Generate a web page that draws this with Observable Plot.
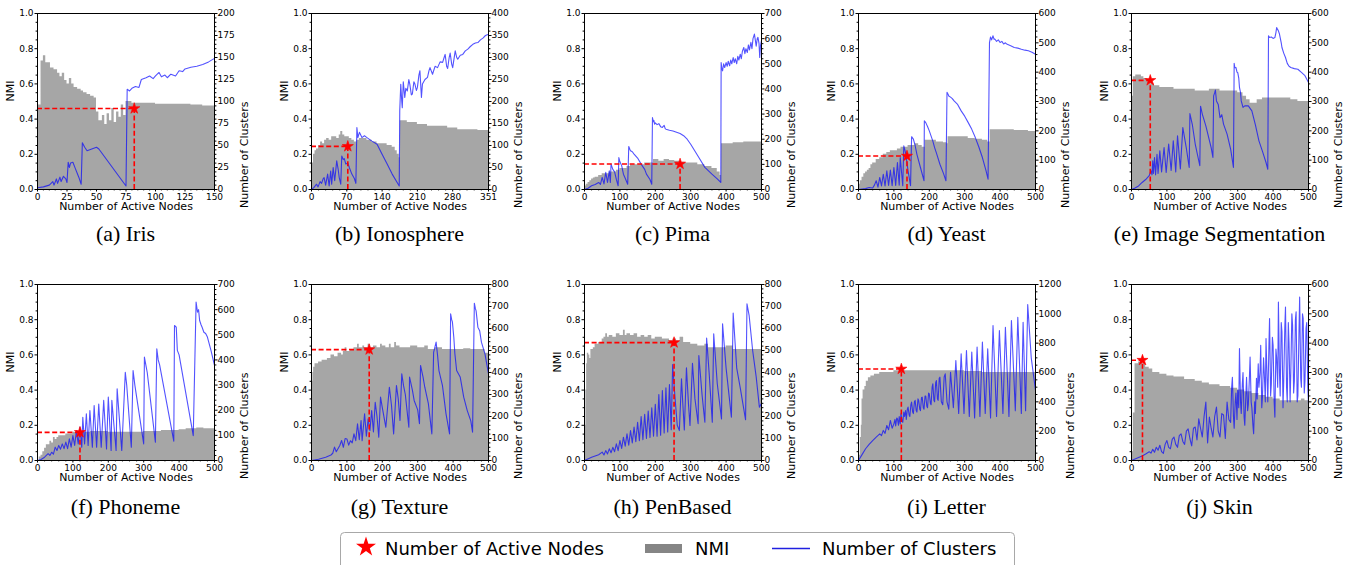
<!DOCTYPE html>
<html><head><meta charset="utf-8">
<script src="https://cdn.jsdelivr.net/npm/d3@7"></script>
<script src="https://cdn.jsdelivr.net/npm/@observablehq/plot@0.6"></script>
<style>
body{margin:0;background:#fff;width:1356px;height:565px;overflow:hidden;position:relative;font-family:"DejaVu Sans";}
.panel{position:absolute;width:290px;height:220px;}
.panel svg{max-width:none;display:block;}
.cap{position:absolute;width:260px;text-align:center;font-family:"Liberation Serif";font-size:22px;line-height:22px;white-space:nowrap;color:#000;}
</style></head><body>
<script>
// ---------- DATA ----------
const panelLabels = ["(a) Iris","(b) Ionosphere","(c) Pima","(d) Yeast","(e) Image Segmentation",
                     "(f) Phoneme","(g) Texture","(h) PenBased","(i) Letter","(j) Skin"];
const xMaxes = [150,351,500,500,500,500,500,500,500,500];
const clusterMaxes = [200,400,700,600,600,700,800,800,1200,600];
const activeNodes = [82,72,270,137,53,120,163,253,121,31];
const activeNMI   = [0.46,0.245,0.145,0.19,0.62,0.16,0.63,0.67,0.52,0.57];

const nmiTicks = [0,0.2,0.4,0.6,0.8,1.0];
const irisXTicks = [0,25,50,75,100,125,150];
const ionoXTicks = [0,70,140,210,280,351];
const nodeXTicks = [0,100,200,300,400,500];
const c200Ticks = [0,25,50,75,100,125,150,175,200];
const c400Ticks = [0,50,100,150,200,250,300,350,400];
const c600Ticks = [0,100,200,300,400,500,600];
const c700Ticks = [0,100,200,300,400,500,600,700];
const c800Ticks = [0,100,200,300,400,500,600,700,800];
const c1200Ticks = [0,200,400,600,800,1000,1200];

// NMI bars: [active nodes, NMI]
const irisNMI = [[0,0.48],[3,0.73],[5,0.76],[7,0.72],[9,0.72],[11,0.69],[14,0.68],[17,0.66],[19,0.64],[21,0.66],[23,0.62],[25,0.60],[27,0.63],[29,0.60],[31,0.58],[34,0.57],[37,0.56],[39,0.55],[42,0.54],[45,0.53],[48,0.52],[50,0.44],[52,0.39],[55,0.42],[57,0.37],[59,0.43],[61,0.39],[63,0.46],[65,0.38],[67,0.44],[69,0.41],[71,0.48],[73,0.42],[75,0.50],[80,0.49],[90,0.49],[100,0.485],[120,0.485],[130,0.48],[140,0.475],[150,0.47]];
const ionoNMI = [[0,0.05],[2,0.15],[4,0.2],[7,0.22],[10,0.23],[14,0.25],[18,0.27],[22,0.26],[26,0.28],[30,0.29],[35,0.28],[40,0.3],[45,0.3],[50,0.29],[55,0.31],[58,0.33],[62,0.31],[66,0.3],[70,0.3],[75,0.29],[80,0.28],[85,0.27],[90,0.28],[95,0.29],[100,0.29],[110,0.28],[120,0.27],[130,0.26],[140,0.26],[150,0.25],[160,0.24],[166,0.22],[170,0.2],[174,0.18],[176,0.39],[190,0.38],[210,0.37],[230,0.36],[250,0.36],[270,0.35],[290,0.34],[310,0.34],[330,0.335],[351,0.335]];
const pimaNMI = [[0,0.02],[5,0.03],[10,0.04],[15,0.05],[20,0.06],[25,0.065],[30,0.07],[40,0.08],[50,0.09],[60,0.09],[70,0.1],[80,0.1],[90,0.11],[100,0.12],[110,0.12],[120,0.13],[130,0.14],[150,0.14],[170,0.15],[190,0.15],[195,0.17],[210,0.16],[225,0.17],[240,0.165],[255,0.16],[270,0.155],[285,0.15],[300,0.15],[320,0.14],[340,0.13],[360,0.12],[375,0.1],[383,0.08],[387,0.26],[420,0.265],[450,0.27],[500,0.27]];
const yeastNMI = [[0,0.03],[5,0.05],[10,0.07],[15,0.09],[20,0.1],[25,0.11],[30,0.12],[35,0.14],[40,0.15],[50,0.17],[60,0.18],[70,0.2],[80,0.21],[90,0.22],[100,0.22],[110,0.23],[120,0.24],[130,0.24],[140,0.25],[150,0.25],[160,0.26],[170,0.25],[180,0.24],[188,0.28],[200,0.28],[220,0.27],[240,0.265],[250,0.26],[253,0.3],[270,0.3],[290,0.3],[310,0.29],[330,0.285],[350,0.28],[365,0.27],[372,0.34],[400,0.34],[440,0.335],[480,0.33],[500,0.33]];
const imgsegNMI = [[0,0.53],[5,0.64],[12,0.65],[20,0.65],[28,0.64],[35,0.63],[45,0.62],[55,0.6],[65,0.59],[80,0.58],[100,0.58],[120,0.57],[150,0.57],[180,0.56],[200,0.56],[220,0.57],[250,0.56],[280,0.56],[300,0.55],[315,0.53],[325,0.51],[335,0.49],[345,0.49],[355,0.51],[370,0.52],[400,0.52],[430,0.52],[450,0.51],[470,0.5],[500,0.49]];
const phonemeNMI = [[0,0.0],[5,0.02],[10,0.03],[15,0.05],[20,0.07],[25,0.09],[30,0.09],[35,0.11],[40,0.1],[45,0.13],[50,0.12],[55,0.13],[60,0.14],[70,0.14],[80,0.15],[90,0.15],[100,0.16],[120,0.16],[150,0.165],[200,0.16],[250,0.16],[300,0.165],[350,0.17],[400,0.175],[420,0.18],[450,0.185],[470,0.18],[500,0.18]];
const textureNMI = [[0,0.35],[2,0.45],[4,0.5],[6,0.53],[10,0.55],[20,0.56],[30,0.57],[45,0.58],[55,0.6],[65,0.59],[75,0.61],[85,0.6],[90,0.62],[95,0.64],[100,0.62],[110,0.63],[120,0.64],[130,0.66],[135,0.64],[145,0.65],[150,0.64],[160,0.66],[165,0.64],[175,0.65],[185,0.64],[195,0.66],[200,0.65],[210,0.64],[220,0.66],[225,0.64],[235,0.67],[240,0.65],[250,0.64],[270,0.64],[280,0.65],[300,0.64],[320,0.65],[330,0.63],[350,0.64],[370,0.63],[400,0.63],[430,0.635],[450,0.63],[480,0.63],[490,0.61],[500,0.6]];
const penNMI = [[0,0.0],[2,0.2],[4,0.4],[6,0.55],[8,0.61],[12,0.6],[15,0.58],[18,0.63],[25,0.64],[30,0.66],[40,0.67],[50,0.69],[55,0.7],[60,0.72],[65,0.7],[70,0.71],[80,0.7],[90,0.72],[100,0.71],[110,0.74],[115,0.71],[120,0.72],[130,0.71],[140,0.72],[150,0.7],[160,0.71],[170,0.7],[180,0.71],[190,0.69],[200,0.7],[220,0.69],[240,0.68],[250,0.69],[260,0.68],[270,0.7],[280,0.67],[300,0.66],[320,0.65],[340,0.66],[350,0.64],[380,0.64],[400,0.65],[420,0.63],[460,0.63],[500,0.62]];
const letterNMI = [[0,0.03],[5,0.13],[8,0.2],[10,0.35],[13,0.4],[18,0.42],[22,0.45],[28,0.47],[35,0.48],[45,0.49],[60,0.5],[80,0.5],[100,0.51],[150,0.51],[200,0.51],[250,0.51],[300,0.505],[350,0.5],[400,0.5],[450,0.5],[500,0.49]];
const skinNMI = [[0,0.05],[5,0.27],[10,0.55],[20,0.56],[30,0.55],[40,0.53],[50,0.52],[60,0.5],[80,0.49],[100,0.48],[120,0.475],[150,0.46],[180,0.45],[200,0.44],[220,0.43],[250,0.42],[280,0.41],[300,0.4],[320,0.39],[340,0.38],[360,0.37],[380,0.36],[400,0.35],[420,0.34],[460,0.34],[480,0.35],[490,0.34],[500,0.33]];

// Number of clusters: [active nodes, clusters]
const irisClusters = [[0,2],[5,3],[10,5],[13,9],[14,5],[16,12],[17,7],[19,14],[20,9],[22,15],[24,12],[25,8],[26,31],[27,25],[28,30],[30,31],[32,24],[35,14],[37,6],[38,53],[40,48],[42,44],[46,46],[50,48],[52,46],[75,4],[76,114],[78,112],[80,115],[83,117],[86,116],[88,125],[92,127],[95,129],[98,126],[100,129],[103,133],[105,128],[108,130],[110,127],[113,131],[117,129],[120,135],[123,134],[125,137],[130,139],[135,140],[140,142],[145,145],[150,149]];
const ionoClusters = [[0,0],[5,5],[10,12],[13,6],[17,18],[20,14],[23,24],[25,27],[28,10],[32,35],[35,8],[38,42],[40,12],[43,50],[46,20],[50,65],[53,45],[55,27],[58,12],[60,76],[63,68],[65,70],[68,58],[72,60],[75,50],[80,35],[85,25],[88,14],[90,141],[92,118],[95,130],[100,118],[105,122],[110,118],[120,110],[130,103],[140,80],[150,58],[160,35],[174,8],[175,179],[177,239],[179,200],[180,186],[182,245],[185,209],[187,230],[190,224],[193,250],[195,239],[198,215],[200,217],[203,245],[205,240],[208,225],[210,232],[213,260],[215,270],[218,209],[220,240],[225,250],[230,255],[233,270],[235,277],[240,262],[245,280],[250,277],[255,290],[260,289],[263,300],[265,307],[268,280],[270,275],[273,300],[275,310],[278,285],[280,277],[285,315],[288,300],[290,296],[295,305],[300,307],[305,315],[310,319],[315,325],[320,330],[325,333],[330,334],[335,340],[340,344],[345,350],[351,353]];
const pimaClusters = [[0,0],[10,5],[20,15],[30,20],[40,28],[45,20],[50,48],[55,22],[60,68],[65,28],[70,74],[73,28],[75,101],[80,80],[85,70],[90,40],[95,15],[97,127],[100,110],[105,95],[110,61],[115,45],[122,21],[125,171],[128,160],[130,154],[135,150],[140,141],[150,125],[160,101],[170,80],[175,61],[185,40],[190,21],[192,286],[194,270],[196,275],[198,260],[200,265],[205,258],[210,262],[215,250],[220,247],[225,255],[228,242],[230,240],[240,236],[250,233],[260,228],[270,223],[280,214],[290,200],[300,180],[320,134],[340,88],[360,61],[375,42],[385,28],[386,505],[388,480],[390,472],[393,500],[396,485],[400,505],[403,490],[406,510],[410,492],[413,515],[416,500],[420,525],[423,505],[426,520],[430,500],[433,530],[436,515],[440,538],[443,520],[446,550],[450,565],[453,540],[456,560],[460,545],[463,575],[466,555],[470,585],[473,560],[476,600],[480,618],[483,590],[485,570],[488,600],[490,605],[493,580],[495,525],[497,570],[500,592]];
const yeastClusters = [[0,0],[20,3],[30,7],[40,5],[45,15],[50,30],[55,8],[60,41],[65,12],[70,52],[75,12],[80,64],[85,14],[90,66],[95,13],[100,75],[105,14],[110,92],[115,15],[118,109],[125,13],[128,149],[133,125],[140,64],[147,13],[150,180],[155,172],[160,150],[165,120],[175,75],[185,30],[186,234],[190,228],[195,215],[200,200],[210,165],[215,143],[220,125],[230,86],[240,55],[247,30],[250,331],[253,325],[255,319],[260,315],[265,310],[270,302],[280,290],[290,268],[300,250],[310,228],[320,205],[330,177],[340,145],[350,109],[360,65],[366,35],[370,501],[373,520],[376,510],[380,524],[383,512],[385,513],[390,505],[395,510],[400,501],[405,505],[410,496],[415,500],[420,495],[430,490],[440,484],[450,482],[460,478],[470,475],[480,473],[490,468],[500,461]];
const imgsegClusters = [[0,0],[10,5],[20,12],[30,24],[40,34],[50,47],[55,64],[58,50],[60,98],[62,55],[65,109],[68,50],[72,120],[75,55],[80,132],[85,60],[92,143],[98,58],[105,155],[112,65],[118,166],[125,60],[130,183],[138,70],[145,211],[155,140],[163,75],[165,259],[172,220],[180,155],[193,81],[195,284],[200,257],[210,217],[225,143],[230,109],[232,319],[235,330],[237,339],[240,302],[245,290],[250,245],[255,255],[260,223],[270,189],[280,138],[288,75],[290,430],[292,415],[295,416],[298,400],[300,399],[303,380],[305,348],[308,330],[310,302],[315,280],[320,285],[330,285],[340,268],[350,220],[360,166],[370,130],[380,92],[385,69],[387,524],[390,518],[395,520],[400,515],[405,518],[408,535],[410,552],[413,545],[415,541],[418,530],[420,518],[423,500],[425,484],[430,465],[435,450],[440,430],[445,420],[450,416],[460,412],[470,410],[480,399],[490,388],[500,365]];
const phonemeClusters = [[0,0],[10,4],[20,13],[30,27],[35,20],[40,33],[45,25],[50,53],[55,40],[60,60],[65,45],[70,66],[75,47],[80,73],[85,47],[90,86],[95,53],[100,99],[105,60],[110,119],[115,66],[120,133],[125,53],[128,172],[133,66],[138,186],[143,60],[148,199],[155,53],[160,219],[167,53],[173,225],[180,53],[187,239],[195,46],[200,252],[208,40],[210,239],[222,40],[225,285],[238,40],[248,351],[252,300],[265,53],[270,358],[275,300],[300,66],[302,411],[306,380],[310,350],[333,73],[337,444],[341,400],[345,380],[385,77],[387,537],[392,530],[395,438],[400,420],[440,99],[448,630],[452,590],[455,600],[458,557],[462,540],[465,530],[470,510],[475,505],[480,491],[490,438],[500,378]];
const textureClusters = [[0,0],[20,6],[40,15],[55,25],[60,33],[65,61],[70,40],[80,68],[85,91],[90,60],[95,100],[100,98],[105,70],[110,90],[115,80],[120,121],[125,90],[130,167],[135,95],[140,182],[143,90],[150,212],[155,110],[160,190],[165,136],[170,227],[175,130],[180,265],[185,200],[190,106],[195,288],[200,240],[210,151],[220,333],[226,250],[232,121],[240,341],[245,280],[250,182],[255,394],[260,340],[265,300],[275,151],[277,379],[285,320],[290,273],[300,230],[305,167],[308,432],[315,380],[320,333],[330,260],[340,121],[345,492],[352,538],[356,480],[360,409],[370,340],[380,212],[390,121],[393,667],[396,640],[398,630],[402,560],[405,485],[410,409],[420,380],[430,288],[440,227],[450,180],[455,129],[460,715],[463,690],[465,680],[470,606],[475,590],[480,538],[490,485],[500,394]];
const penClusters = [[0,0],[20,15],[40,26],[50,38],[55,25],[60,45],[65,30],[70,53],[75,35],[80,60],[85,40],[90,76],[95,45],[100,91],[105,55],[110,106],[115,65],[120,121],[125,70],[130,136],[135,80],[140,152],[145,85],[150,174],[155,90],[160,200],[165,95],[170,210],[175,100],[180,225],[185,105],[190,240],[195,110],[200,255],[205,110],[210,300],[215,115],[220,318],[225,125],[230,330],[235,130],[240,345],[245,140],[249,436],[255,300],[262,160],[268,136],[274,371],[278,250],[282,139],[288,421],[294,250],[298,159],[305,442],[312,280],[321,167],[323,477],[332,300],[340,174],[345,557],[352,400],[361,174],[365,576],[375,350],[387,189],[390,621],[400,420],[415,197],[420,670],[430,420],[440,330],[455,185],[459,712],[465,660],[475,500],[485,380],[494,242],[500,260]];
const letterClusters = [[0,0],[10,40],[20,80],[30,110],[40,136],[50,160],[60,182],[65,170],[70,205],[75,185],[80,239],[85,210],[90,273],[95,220],[100,250],[103,280],[105,235],[108,290],[110,284],[113,240],[115,300],[118,250],[120,318],[123,270],[125,260],[128,330],[130,300],[133,340],[135,280],[138,350],[140,364],[143,310],[145,300],[148,380],[150,398],[153,330],[155,320],[158,400],[160,410],[163,340],[165,330],[168,420],[170,409],[173,350],[175,340],[178,430],[180,432],[183,360],[185,350],[188,440],[190,440],[193,370],[195,360],[198,460],[200,455],[203,390],[205,380],[208,500],[210,523],[213,410],[215,400],[218,530],[220,545],[223,420],[225,410],[228,560],[230,568],[234,400],[238,380],[242,570],[245,591],[250,400],[255,350],[260,602],[268,360],[275,682],[283,320],[290,727],[298,320],[305,750],[313,300],[320,740],[328,290],[335,773],[343,300],[350,807],[358,320],[365,761],[373,290],[380,920],[390,300],[398,886],[408,320],[415,909],[425,300],[432,955],[443,340],[450,977],[460,320],[465,943],[472,340],[478,1064],[488,700],[500,477]];
const skinClusters = [[0,0],[10,5],[20,10],[30,15],[40,22],[50,30],[55,25],[60,38],[65,28],[70,45],[75,35],[80,52],[85,30],[90,24],[95,55],[100,68],[105,45],[110,40],[115,72],[120,80],[125,55],[130,45],[135,85],[140,91],[145,65],[150,55],[155,100],[160,108],[165,75],[170,50],[175,110],[180,114],[185,70],[190,142],[195,110],[200,80],[205,150],[210,199],[215,60],[220,148],[225,110],[230,80],[235,150],[240,182],[245,100],[250,80],[255,160],[260,155],[265,75],[270,199],[275,140],[280,130],[283,250],[285,284],[288,150],[290,110],[293,200],[295,230],[298,140],[300,239],[303,180],[305,382],[308,200],[310,160],[313,260],[315,300],[318,150],[320,120],[323,220],[325,284],[328,170],[330,190],[333,280],[335,353],[338,200],[340,180],[343,120],[345,91],[348,200],[350,160],[353,280],[355,210],[358,330],[360,250],[363,300],[365,393],[368,180],[370,220],[373,350],[375,300],[378,200],[380,416],[383,280],[385,200],[388,380],[390,484],[393,220],[395,260],[398,420],[400,393],[403,200],[405,148],[408,380],[410,350],[413,250],[415,540],[418,300],[420,220],[423,470],[425,439],[428,180],[430,270],[433,450],[435,523],[438,250],[440,200],[443,470],[445,400],[448,200],[450,300],[453,500],[455,462],[458,230],[460,270],[463,480],[465,507],[468,200],[470,220],[473,430],[475,557],[478,280],[480,250],[483,500],[485,484],[488,230],[490,270],[493,450],[495,470],[498,250],[500,193]];

const nmiSeries = [irisNMI,ionoNMI,pimaNMI,yeastNMI,imgsegNMI,phonemeNMI,textureNMI,penNMI,letterNMI,skinNMI];
const clusterSeries = [irisClusters,ionoClusters,pimaClusters,yeastClusters,imgsegClusters,phonemeClusters,textureClusters,penClusters,letterClusters,skinClusters];
const xTickSets = [irisXTicks,ionoXTicks,nodeXTicks,nodeXTicks,nodeXTicks,nodeXTicks,nodeXTicks,nodeXTicks,nodeXTicks,nodeXTicks];
const cTickSets = [c200Ticks,c400Ticks,c700Ticks,c600Ticks,c600Ticks,c700Ticks,c800Ticks,c800Ticks,c1200Ticks,c600Ticks];

// ---------- LAYOUT ----------
const frameLefts = [37,311,584,858,1131];
const panelTops = [0,271];
const captionTops = [223,496];
const ML = 37, MT = 13, FW = 177, FH = 176, MB = 31;
const W = 290, H = MT + FH + MB;

function minors(ticks, n) {
  const out = [];
  for (let i = 0; i < ticks.length - 1; i++) {
    const a = ticks[i], b = ticks[i+1];
    for (let k = 1; k < n; k++) out.push(a + (b - a) * k / n);
  }
  return out;
}

function panel(i) {
  const cmax = clusterMaxes[i];
  const xmax = xMaxes[i];
  const y2 = d3.scaleLinear([0, cmax], [0, 1]);
  const sx = activeNodes[i], sy = activeNMI[i];
  const xt = xTickSets[i];
  const ct = cTickSets[i];
  const cDiv = (ct[1] - ct[0]) === 200 ? 4 : 5;
  const dash = {stroke: "red", strokeWidth: 1.6, strokeDasharray: "5,2.6"};
  return Plot.plot({
    width: W, height: H,
    marginLeft: ML, marginRight: W - ML - FW, marginTop: MT, marginBottom: MB,
    x: {domain: [0, xmax]},
    y: {domain: [0, 1]},
    style: {fontFamily: "DejaVu Sans", fontSize: "9px", color: "black", background: "transparent", overflow: "visible"},
    marks: [
      Plot.areaY(nmiSeries[i], {x: d => d[0], y: d => d[1], curve: "step-after", fill: "gray", fillOpacity: 0.7}),
      Plot.lineY(clusterSeries[i], {x: d => d[0], y: d => y2(d[1]), stroke: "blue", strokeOpacity: 0.68, strokeWidth: 1.1}),
      Plot.ruleY([sy], {y: d => d, x1: () => 0, x2: () => sx, ...dash}),
      Plot.ruleX([sx], {x: d => d, y1: () => 0, y2: () => sy, ...dash}),
      Plot.dot([sx], {x: d => d, y: () => sy, symbol: "star", r: 3.5, fill: "red", stroke: "red", strokeWidth: 0.6}),
      Plot.frame({stroke: "black", strokeWidth: 1}),
      Plot.axisY(nmiTicks, {anchor: "left", tickSize: 2.5, tickPadding: 1.5, tickFormat: d3.format(".1f"), label: null}),
      Plot.axisY(minors(nmiTicks, 4), {anchor: "left", tickSize: 1.4, tickFormat: () => "", label: null}),
      Plot.axisX(xt, {anchor: "bottom", tickSize: 2.5, tickPadding: 1.5, tickFormat: d => String(d), label: null}),
      Plot.axisX(minors(xt, 5), {anchor: "bottom", tickSize: 1.4, tickFormat: () => "", label: null}),
      Plot.axisY(ct, {anchor: "right", y: y2, tickSize: 2.5, tickPadding: 0.5, tickFormat: d => String(d), label: null}),
      Plot.axisY(minors(ct, cDiv), {anchor: "right", y: y2, tickSize: 1.4, tickFormat: () => "", label: null}),
      Plot.text(["NMI"], {text: d => d, frameAnchor: "left", dx: -27, rotate: -90, fontSize: 11}),
      Plot.text(["Number of Active Nodes"], {text: d => d, frameAnchor: "bottom", dy: 20, fontSize: 11}),
      Plot.text(["Number of Clusters"], {text: d => d, frameAnchor: "right", dx: cmax >= 1000 ? 35 : 30, rotate: -90, fontSize: 11})
    ]
  });
}

for (let i = 0; i < 10; i++) {
  const row = Math.floor(i / 5), col = i % 5;
  const div = document.createElement("div");
  div.className = "panel";
  div.style.left = (frameLefts[col] - ML) + "px";
  div.style.top = panelTops[row] + "px";
  div.appendChild(panel(i));
  document.body.appendChild(div);
  const cap = document.createElement("div");
  cap.className = "cap";
  cap.textContent = panelLabels[i];
  cap.style.left = (frameLefts[col] + FW / 2 - 130) + "px";
  cap.style.top = captionTops[row] + "px";
  document.body.appendChild(cap);
}

// ---------- LEGEND ----------
const legendItems = ["Number of Active Nodes", "NMI", "Number of Clusters"];
const ns = "http://www.w3.org/2000/svg";
const lg = document.createElementNS(ns, "svg");
lg.setAttribute("width", 1356);
lg.setAttribute("height", 40);
lg.style.position = "absolute"; lg.style.left = "0px"; lg.style.top = "525px";
function el(tag, attrs, text) {
  const e = document.createElementNS(ns, tag);
  for (const k in attrs) e.setAttribute(k, attrs[k]);
  if (text) e.textContent = text;
  lg.appendChild(e);
  return e;
}
el("rect", {x: 340.5, y: 7.5, width: 674, height: 44, rx: 4, fill: "white", stroke: "#a8a8a8", "stroke-width": 1});
el("path", {d: d3.symbol(d3.symbolStar, 124)(), transform: "translate(366,22)", fill: "red"});
el("text", {x: 385, y: 29.5, "font-family": "DejaVu Sans", "font-size": 18, fill: "black"}, legendItems[0]);
el("rect", {x: 645, y: 19, width: 37, height: 9, fill: "#858585"});
el("text", {x: 695, y: 29.5, "font-family": "DejaVu Sans", "font-size": 18, fill: "black"}, legendItems[1]);
el("line", {x1: 772, x2: 810, y1: 23.5, y2: 23.5, stroke: "#2020e0", "stroke-width": 1.6});
el("text", {x: 822, y: 29.5, "font-family": "DejaVu Sans", "font-size": 18, fill: "black"}, legendItems[2]);
document.body.appendChild(lg);
</script>
</body></html>
